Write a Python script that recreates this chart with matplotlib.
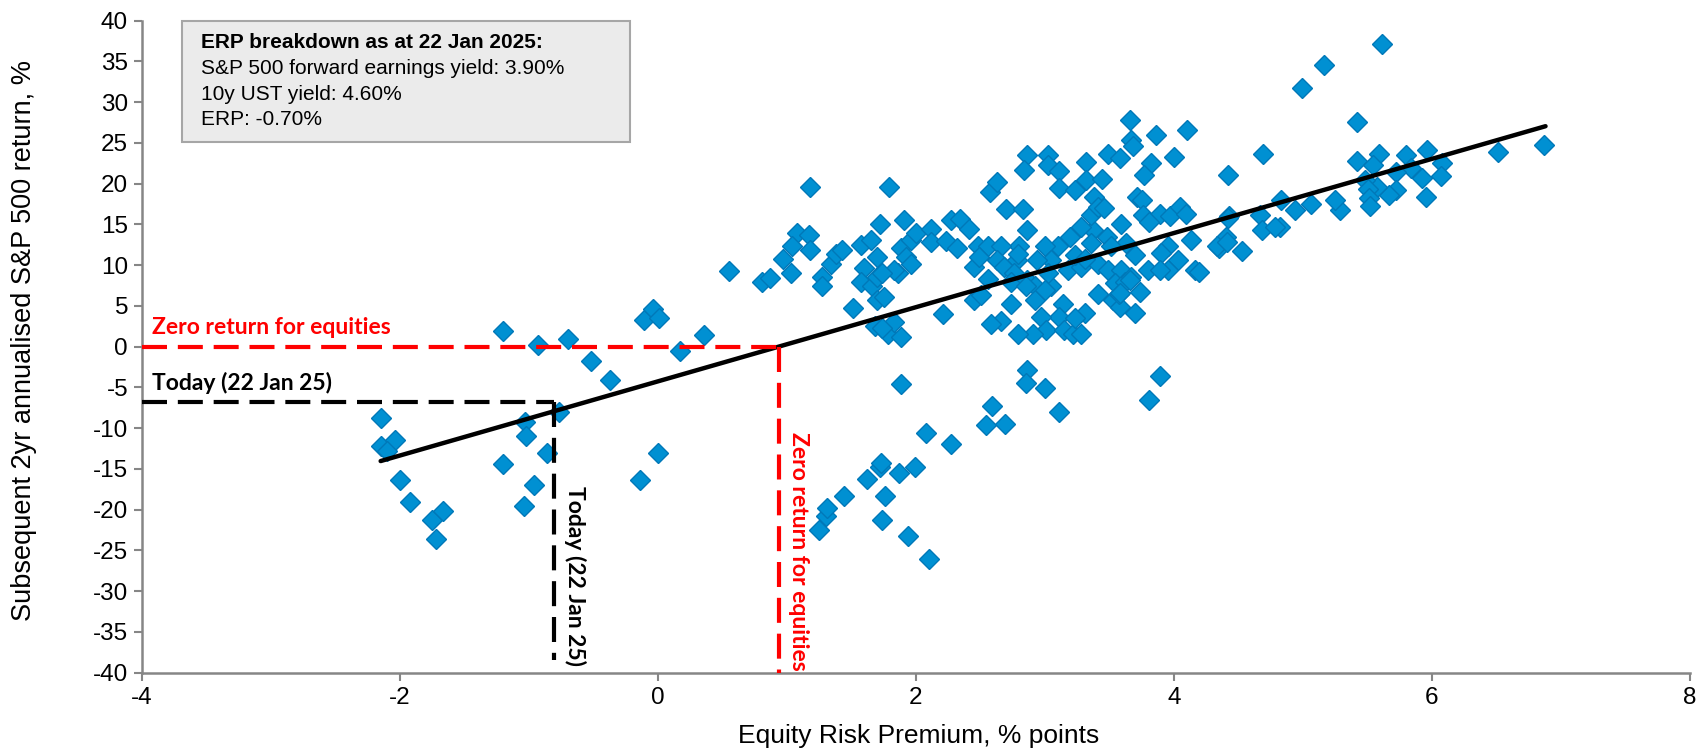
import matplotlib
matplotlib.use("Agg")
import matplotlib.pyplot as plt
from matplotlib.patches import Rectangle

# ---------------- data ----------------
# Negative-ERP regime (ERP < 0.6)
erp_left = [-2.15, -2.15, -2.04, -2.10, -2.00, -1.92, -1.75, -1.67, -1.72,
            -1.20, -1.03, -1.02, -1.04, -0.96, -0.86, -0.77, -0.14, 0.00,
            -1.20, -0.93, -0.70, -0.52, -0.37, -0.11, -0.04, 0.01, 0.17, 0.36, 0.55]
ret_left = [-8.7, -12.2, -11.4, -12.8, -16.4, -19.1, -21.3, -20.1, -23.6,
            -14.4, -9.2, -11.0, -19.6, -17.0, -13.0, -8.0, -16.3, -13.0,
            1.9, 0.2, 0.9, -1.8, -4.1, 3.3, 4.6, 3.5, -0.5, 1.4, 9.3]

# Lower branch (negative returns with positive ERP)
erp_lowbranch = [1.25, 1.30, 1.31, 1.44, 1.62, 1.72, 1.73, 1.76, 1.74, 1.87, 1.99, 1.94,
                 2.10, 2.08, 2.27, 1.88, 2.54, 2.59, 2.69, 2.86, 2.85, 3.00, 3.11, 3.89, 3.81]
ret_lowbranch = [-22.5, -20.8, -19.8, -18.3, -16.2, -14.7, -14.3, -18.3, -21.3, -15.5, -14.7, -23.2,
                 -26.0, -10.6, -11.9, -4.6, -9.6, -7.3, -9.5, -2.8, -4.5, -5.1, -8.0, -3.6, -6.6]

# Main cluster (ERP roughly 0.8 to 4.8)
erp_main = [1.18, 1.79, 0.81, 0.87, 1.08, 1.17, 1.18, 1.04, 0.97, 1.03, 1.27, 1.27,
            1.34, 1.38, 1.43, 1.57, 1.65, 1.72, 1.70, 1.60, 1.57, 1.66, 1.70, 1.70,
            1.51, 1.68, 1.78, 1.83, 1.88, 1.91, 1.86, 1.88, 1.92, 1.96, 2.00, 1.96,
            1.83, 2.12, 2.12, 2.21, 2.23, 2.27, 2.34, 2.32, 2.41, 2.45, 2.45, 2.50,
            2.48, 2.56, 2.57, 2.63, 2.70, 2.83, 2.86, 2.86, 2.84, 3.02, 3.02, 3.11,
            3.11, 3.23, 3.32, 3.32, 3.44, 3.38, 3.49, 3.58, 3.66, 3.67, 3.68, 3.86,
            4.10, 4.00, 3.82, 3.77, 3.71, 3.75, 3.76, 3.89, 3.97, 4.05, 4.09, 4.13,
            4.16, 3.95, 3.90, 4.03, 3.95, 3.80, 3.70, 3.63, 3.59, 3.48, 3.37, 3.36,
            3.19, 3.10, 3.00, 3.05, 2.94, 2.80, 2.78, 2.66, 2.63, 2.68, 2.76, 2.74,
            2.86, 2.92, 3.05, 3.02, 3.18, 3.28, 3.41, 3.49, 3.59, 3.54, 3.62, 3.67,
            3.41, 3.53, 3.58, 3.74, 3.70, 3.31, 3.14, 3.11, 2.97, 3.01, 2.91, 2.79,
            3.15, 3.22, 3.28, 2.92, 3.00, 2.74, 2.66, 2.58, 2.56, 2.49, 2.79, 3.23,
            3.51, 3.36, 3.41, 3.28, 3.46, 3.81, 1.74, 3.23, 2.85, 1.74, 1.75, 3.89,
            3.31, 3.66, 3.57, 3.58, 4.35, 4.43, 4.40]
ret_main = [19.6, 19.6, 7.9, 8.4, 14.0, 13.7, 11.9, 12.3, 10.7, 9.1, 8.6, 7.4,
            10.2, 11.4, 11.9, 12.5, 13.1, 15.1, 11.0, 9.6, 8.0, 7.4, 8.6, 5.7,
            4.8, 2.5, 1.6, 3.0, 1.15, 15.6, 9.0, 12.1, 11.0, 13.1, 13.9, 10.2,
            9.4, 14.5, 12.8, 4.0, 13.0, 15.5, 15.7, 12.1, 14.5, 9.8, 5.7, 6.3,
            12.3, 12.3, 19.0, 20.2, 16.9, 16.9, 14.3, 23.5, 21.7, 23.5, 22.3, 21.5,
            19.5, 19.2, 22.7, 20.4, 20.6, 18.4, 23.7, 23.1, 27.8, 25.4, 24.6, 26.0,
            26.6, 23.3, 22.5, 21.1, 18.4, 18.0, 16.2, 16.3, 16.0, 17.2, 16.3, 13.1,
            9.4, 12.3, 11.5, 10.6, 9.4, 9.4, 11.2, 12.7, 15.1, 13.5, 14.3, 12.7,
            13.5, 12.3, 12.3, 10.6, 10.6, 12.3, 10.6, 12.3, 10.6, 9.8, 9.0, 8.0,
            8.2, 7.4, 7.4, 9.0, 9.4, 9.8, 10.2, 9.4, 9.4, 7.8, 8.0, 8.6,
            6.5, 5.7, 4.9, 6.7, 4.1, 4.1, 5.3, 3.7, 3.7, 2.0, 1.5, 1.6,
            2.0, 1.5, 1.5, 5.7, 6.9, 5.2, 3.2, 2.8, 8.3, 11.0, 11.4, 11.2,
            12.3, 16.2, 17.2, 14.7, 17.0, 15.3, 2.3, 3.5, 7.4, 9.0, 6.1, 9.4,
            10.8, 8.2, 6.5, 6.6, 12.1, 16.0, 13.5]

# High-ERP cluster (ERP above ~4.2)
erp_right = [5.61, 5.16, 4.99, 5.42, 4.69, 4.42, 5.42, 5.59, 5.54, 5.80, 5.96, 6.08,
             5.84, 5.92, 6.07, 6.51, 6.87, 5.72, 5.72, 5.67, 5.57, 5.48, 5.50, 5.51,
             5.52, 5.95, 5.29, 5.25, 5.06, 4.94, 4.83, 4.82, 4.67, 4.68, 4.53, 4.42,
             4.33, 4.41, 4.19, 4.78]
ret_right = [37.2, 34.6, 31.7, 27.6, 23.7, 21.1, 22.8, 23.6, 22.3, 23.5, 24.1, 22.6,
             21.9, 20.7, 20.9, 23.9, 24.7, 21.4, 19.2, 18.6, 19.6, 20.5, 19.3, 18.2,
             17.3, 18.4, 16.8, 18.0, 17.5, 16.8, 18.0, 14.7, 16.2, 14.3, 11.7, 15.8,
             12.3, 12.9, 9.2, 14.7]

# Regression line and guide values
trend_erp = [-2.15, 6.88]
trend_slope = 4.55
trend_intercept = -4.25
today_erp = -0.81
today_ret = -6.8
zero_ret_erp = 0.94

box_title = "ERP breakdown as at 22 Jan 2025:"
box_lines = ["S&P 500 forward earnings yield: 3.90%",
             "10y UST yield: 4.60%",
             "ERP: -0.70%"]

# ---------------- drawing ----------------
plt.rcParams['font.family'] = ['Liberation Sans', 'DejaVu Sans']
plt.rcParams['axes.unicode_minus'] = False

W, H = 1698, 750
fig = plt.figure(figsize=(W / 100, H / 100), dpi=100)
L, R, T, B = 142, 1690, 20.7, 672.7
ax = fig.add_axes([L / W, (H - B) / H, (R - L) / W, (B - T) / H])

marker_face = '#0090D2'
marker_edge = '#0078B8'
for xs, ys in [(erp_left, ret_left), (erp_lowbranch, ret_lowbranch),
               (erp_main, ret_main), (erp_right, ret_right)]:
    ax.plot(xs, ys, linestyle='none', marker='D', markersize=9.8,
            markerfacecolor=marker_face, markeredgecolor=marker_edge,
            markeredgewidth=1.0, zorder=3)

# Trend line
ty = [trend_slope * v + trend_intercept for v in trend_erp]
ax.plot(trend_erp, ty, color='black', linewidth=3.2, solid_capstyle='round', zorder=5)

# Guide dashed lines
dash = (6, 2.6)
ax.plot([-4, zero_ret_erp], [0, 0], color='#FF0000', linewidth=3, dashes=dash, zorder=6)
ax.plot([zero_ret_erp, zero_ret_erp], [0, -40], color='#FF0000', linewidth=3, dashes=dash, zorder=6)
ax.plot([-4, today_erp], [today_ret, today_ret], color='black', linewidth=3, dashes=dash, zorder=6)
ax.plot([today_erp, today_erp], [today_ret, -38.5], color='black', linewidth=3, dashes=dash, zorder=6)

ann_font = ['Lato', 'DejaVu Sans']
ax.text(-3.92, 2.3, 'Zero return for equities', color='#FF0000', fontsize=16.5,
        fontweight='bold', family=ann_font, ha='left', va='center', zorder=7)
ax.text(-3.92, -4.5, 'Today (22 Jan 25)', color='black', fontsize=16.5,
        fontweight='bold', family=ann_font, ha='left', va='center', zorder=7)
ax.text(-0.645, -28.1, 'Today (22 Jan 25)', color='black', fontsize=16.5,
        fontweight='bold', family=ann_font, ha='center', va='center', rotation=270, zorder=7)
ax.text(1.093, -25.1, 'Zero return for equities', color='#FF0000', fontsize=16.5,
        fontweight='bold', family=ann_font, ha='center', va='center', rotation=270, zorder=7)

# Info box
ax.add_patch(Rectangle((-3.69, 25.1), 3.47, 14.9, facecolor='#EBEBEB',
                       edgecolor='#A6A6A6', linewidth=1.5, zorder=8, clip_on=False))
ax.text(-3.54, 37.3, box_title, fontsize=15, fontweight='bold', ha='left', va='center', zorder=9)
for i, line in enumerate(box_lines):
    ax.text(-3.54, 34.1 - i * 3.1, line, fontsize=15, ha='left', va='center', zorder=9)

# Axes
ax.set_xlim(-4, 8)
ax.set_ylim(-40, 40)
ax.set_xticks(range(-4, 9, 2))
ax.set_yticks(range(-40, 41, 5))
for s in ['top', 'right']:
    ax.spines[s].set_visible(False)
for s in ['left', 'bottom']:
    ax.spines[s].set_color('#868686')
    ax.spines[s].set_linewidth(1.8)
ax.tick_params(axis='both', direction='out', length=6, width=1.5, color='#868686',
               labelsize=17.5, labelcolor='black', pad=4)

ax.set_xlabel('Equity Risk Premium, % points', fontsize=19)
ax.set_ylabel('Subsequent 2yr annualised S&P 500 return, %', fontsize=19.5)
ax.xaxis.set_label_coords(0.502, -0.079)
ax.yaxis.set_label_coords(-0.068, 0.51)

fig.savefig('out.png', dpi=100)
